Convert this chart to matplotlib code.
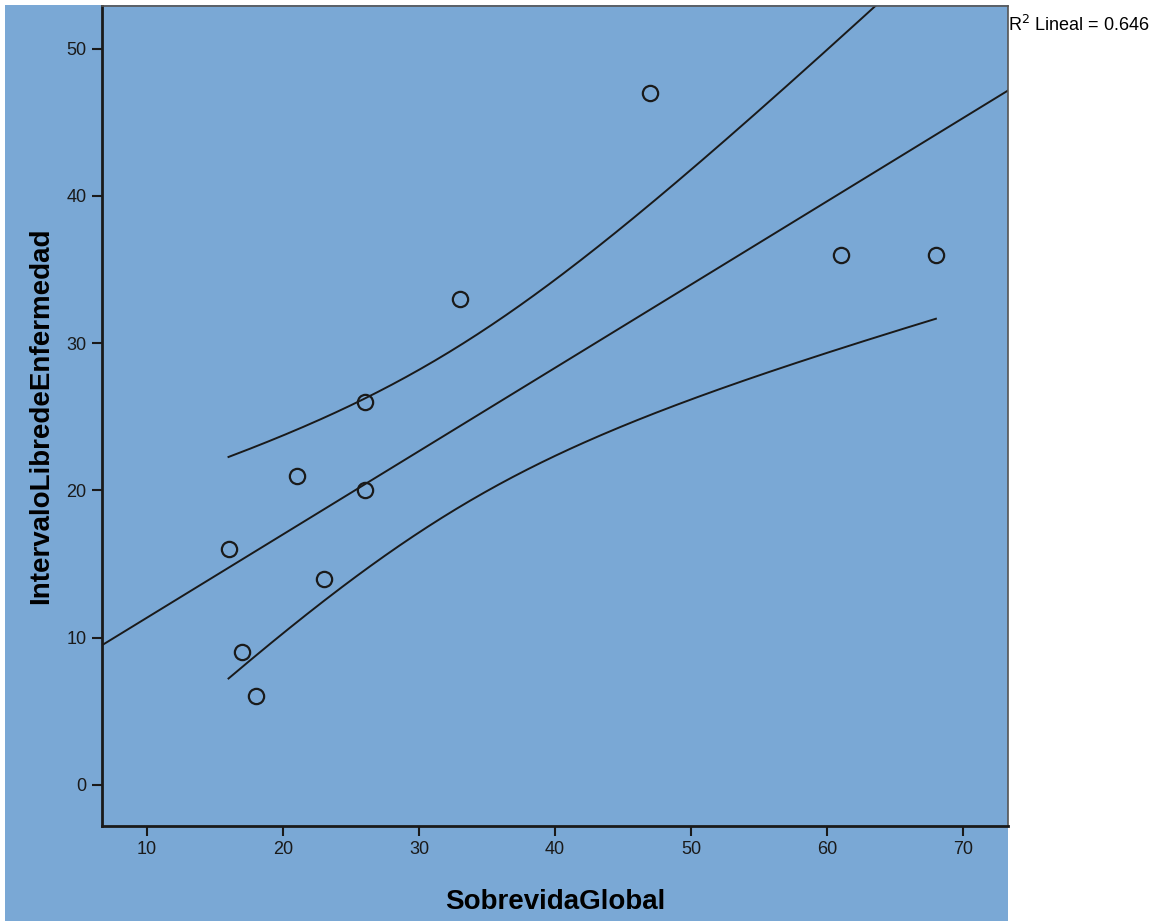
import matplotlib
matplotlib.use("Agg")
import matplotlib.pyplot as plt
import matplotlib.patches as mpatches
import numpy as np

plt.rcParams['font.family'] = ['Liberation Sans', 'DejaVu Sans']

# data
sobrevida = np.array([16, 17, 18, 21, 23, 26, 26, 33, 47, 61, 68])
intervalo = np.array([16, 9, 6, 21, 14, 26, 20, 33, 47, 36, 36])
r2_label = "R$^2$ Lineal = 0.646"
x_ticks = [10, 20, 30, 40, 50, 60, 70]
y_ticks = [0, 10, 20, 30, 40, 50]

bg = "#7aa8d5"

fig = plt.figure(figsize=(11.75, 9.21), dpi=100, facecolor="white")
# blue backdrop of the chart area
fig.patches.append(mpatches.Rectangle((5 / 1175, 0), 1003 / 1175, 916 / 921,
                                      transform=fig.transFigure, facecolor=bg,
                                      edgecolor="none", zorder=-10))

ax = fig.add_axes([102 / 1175, 1 - 826 / 921, 906 / 1175, 820 / 921])
ax.set_facecolor(bg)

# linear fit and 95% confidence band of the mean
n = len(sobrevida)
slope, intercept = np.polyfit(sobrevida, intervalo, 1)
resid = intervalo - (slope * sobrevida + intercept)
s = np.sqrt(np.sum(resid ** 2) / (n - 2))
xm = sobrevida.mean()
sxx = np.sum((sobrevida - xm) ** 2)
t_crit = 2.262  # t(0.975, df=9)

xlim = (6.7, 73.3)
xx = np.linspace(xlim[0], xlim[1], 200)
ax.plot(xx, slope * xx + intercept, color="#1a1a1a", lw=1.4, zorder=2)

xb = np.linspace(sobrevida.min(), sobrevida.max(), 200)
yb = slope * xb + intercept
half = t_crit * s * np.sqrt(1 / n + (xb - xm) ** 2 / sxx)
ax.plot(xb, yb + half, color="#1a1a1a", lw=1.4, zorder=2)
ax.plot(xb, yb - half, color="#1a1a1a", lw=1.4, zorder=2)

ax.plot(sobrevida, intervalo, "o", mfc="none", mec="#1a1a1a", mew=1.6, ms=11, zorder=3)

ax.set_xlim(*xlim)
ax.set_ylim(-2.8, 52.9)
ax.set_xticks(x_ticks)
ax.set_yticks(y_ticks)
ax.tick_params(direction="out", length=7, width=1.5, colors="#1a1a1a",
               labelsize=13, pad=4)

for side in ["left", "bottom"]:
    ax.spines[side].set_linewidth(2)
    ax.spines[side].set_color("#1a1a1a")
for side in ["top", "right"]:
    ax.spines[side].set_linewidth(1.2)
    ax.spines[side].set_color("#555555")

ax.set_xlabel("SobrevidaGlobal", fontsize=20, fontweight="bold", labelpad=22)
ax.set_ylabel("IntervaloLibredeEnfermedad", fontsize=20, fontweight="bold", labelpad=9)

fig.text(1008 / 1175, 1 - 25 / 921, r2_label, fontsize=13, ha="left", va="center")

fig.savefig("out.png", dpi=100, facecolor="white")
